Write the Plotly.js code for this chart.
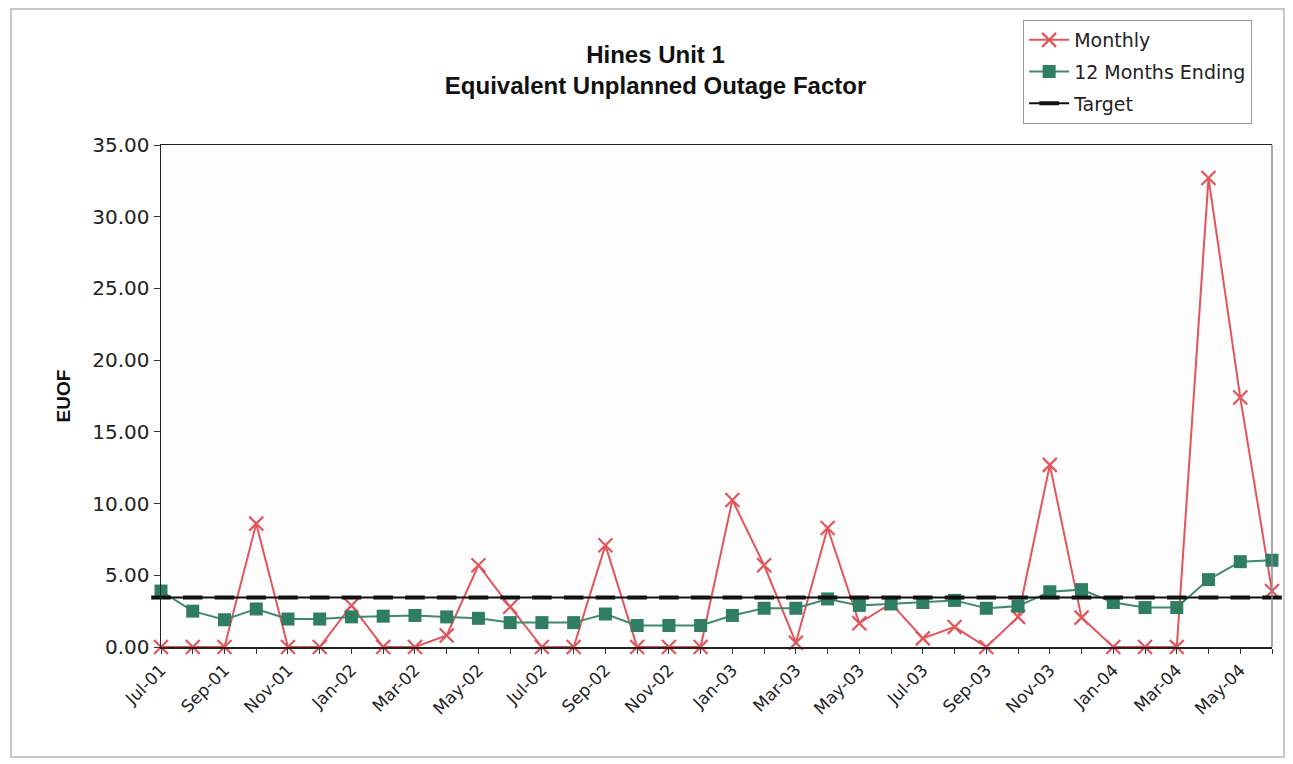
<!DOCTYPE html>
<html>
<head>
<meta charset="utf-8">
<script src="https://cdn.plot.ly/plotly-3.0.1.min.js"></script>
<style>html,body{margin:0;padding:0;background:#fff;}#chart{width:1293px;height:764px;}</style>
</head>
<body>
<div id="chart"></div>
<script>
var months = ["Jul-01","Aug-01","Sep-01","Oct-01","Nov-01","Dec-01",
  "Jan-02","Feb-02","Mar-02","Apr-02","May-02","Jun-02",
  "Jul-02","Aug-02","Sep-02","Oct-02","Nov-02","Dec-02",
  "Jan-03","Feb-03","Mar-03","Apr-03","May-03","Jun-03",
  "Jul-03","Aug-03","Sep-03","Oct-03","Nov-03","Dec-03",
  "Jan-04","Feb-04","Mar-04","Apr-04","May-04","Jun-04"];
var monthly = [0,0,0,8.6,0,0,
  2.9,0,0,0.8,5.7,2.8,
  0,0,7.1,0,0,0,
  10.25,5.7,0.3,8.3,1.65,3.05,
  0.6,1.4,0,2.1,12.7,2.05,
  0,0,0,32.7,17.4,3.9];
var twelveMonth = [3.9,2.5,1.9,2.65,1.95,1.95,
  2.1,2.15,2.2,2.1,2.0,1.7,
  1.7,1.7,2.3,1.5,1.5,1.5,
  2.2,2.7,2.7,3.35,2.9,3.0,
  3.1,3.25,2.7,2.85,3.85,4.0,
  3.1,2.75,2.75,4.7,5.95,6.05];
var target = months.map(function(){return 3.45;});
var yTicks = [0,5,10,15,20,25,30,35];

var tickText = months.map(function(m,i){return i%2===0 ? m : "";});

var traces = [
  {x: months, y: monthly, name: "Monthly", type: "scatter", mode: "lines+markers",
   legendgroup: "a",
   line: {color: "#e2555a", width: 2},
   marker: {symbol: "x-thin-open", size: 14, line: {color: "#e8454c", width: 2.2}},
   cliponaxis: false},
  {x: months, y: twelveMonth, name: "12 Months Ending", type: "scatter", mode: "lines+markers",
   legendgroup: "b",
   line: {color: "#3f8a6c", width: 2},
   marker: {symbol: "square", size: 13, color: "#2f7d62", line: {color: "#2f7d62", width: 0}},
   cliponaxis: false},
  {x: months, y: target, name: "Target", type: "scatter", mode: "lines+markers",
   legendgroup: "c",
   line: {color: "#111111", width: 1.8},
   marker: {symbol: "line-ew", size: 14, line: {color: "#111111", width: 4}},
   cliponaxis: false}
];

var layout = {
  width: 1293, height: 764,
  margin: {l: 161, r: 21, t: 145, b: 117},
  paper_bgcolor: "#ffffff",
  plot_bgcolor: "#fdfdfd",
  font: {family: "DejaVu Sans, Liberation Sans, sans-serif", color: "#111", size: 16},
  title: {text: "<b>Hines Unit 1</b><br><b>Equivalent Unplanned Outage Factor</b>",
    x: 0.507, xanchor: "center", xref: "container",
    y: 0.918, yanchor: "top", yref: "container",
    font: {family: "Liberation Sans, Arial, sans-serif", size: 24, color: "#111"}},
  xaxis: {type: "category", range: [0, 35], tickvals: months, ticktext: tickText,
    tickangle: -45, ticks: "outside", ticklen: 5, tickcolor: "#333",
    showline: true, mirror: true, linecolor: "#222", linewidth: 1.5,
    showgrid: false, zeroline: false, tickfont: {size: 17, color: "#222"}},
  yaxis: {range: [0, 35], tickvals: yTicks, tickformat: ".2f",
    ticks: "outside", ticklen: 6, tickcolor: "#333",
    showline: true, linecolor: "#222", linewidth: 1.5,
    showgrid: false, zeroline: false, tickfont: {size: 20, color: "#222"},
    title: {text: "<b>EUOF</b>", font: {family: "Liberation Sans, Arial, sans-serif", size: 19, color: "#111"}, standoff: 16}},
  showlegend: true,
  legend: {x: 0.776, xanchor: "left", y: 1.249, yanchor: "top",
    bgcolor: "#ffffff", bordercolor: "#999", borderwidth: 1,
    font: {size: 19, color: "#222"}, tracegroupgap: 4, itemwidth: 40},
  shapes: [
    {type: "rect", xref: "paper", yref: "paper", x0: -0.135, x1: 1.0108, y0: -0.219, y1: 1.271,
     line: {color: "#c8c8c8", width: 2}, fillcolor: "rgba(0,0,0,0)", layer: "below"},
    {type: "line", xref: "paper", yref: "paper", x0: 1, x1: 1, y0: 0, y1: 1,
     line: {color: "#888", width: 1.5}}
  ]
};

Plotly.newPlot("chart", traces, layout, {displayModeBar: false, staticPlot: true});
</script>
</body>
</html>
